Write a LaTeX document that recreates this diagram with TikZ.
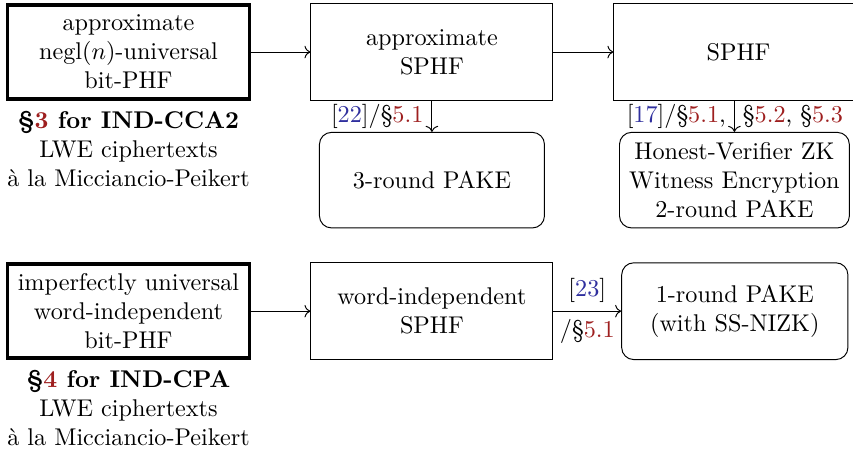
\documentclass[tikz,border=0pt]{standalone}
\usepackage{amsmath}
\usepackage{tikz}
\usepackage{xcolor}
\usetikzlibrary{arrows.meta, positioning}
\definecolor{citeblue}{HTML}{2F2F9E}
\definecolor{secred}{HTML}{9E1F1F}
\newcommand{\citenum}[1]{[\textcolor{citeblue}{#1}]}
\newcommand{\secnum}[1]{\S\textcolor{secred}{#1}}

\begin{document}
\begin{tikzpicture}[
  font=\fontsize{10}{12}\selectfont,
  box/.style={draw, minimum width=100pt, minimum height=40pt, align=center},
  phf/.style={box, line width=1.6pt, minimum height=39pt},
  pake/.style={draw, rounded corners=5pt, minimum height=39.5pt, align=center},
  descr/.style={align=center},
  ar/.style={->}
]
\useasboundingbox (-53.1pt,-165.3pt) rectangle (299.4pt,21.5pt);

% first row: IND-CCA2
\node[phf] (apx) {approximate\\negl($n$)-universal\\bit-PHF};
\node[descr, below=0.5pt of apx] (cca) {\textbf{\S\textcolor{secred}{3} for IND-CCA2}\\LWE ciphertexts\\\`a la Micciancio-Peikert};
\node[box, right=24.4pt of apx] (asphf) {approximate\\SPHF};
\node[box, minimum width=103pt, right=24.8pt of asphf] (sphf) {SPHF};
\node[pake, minimum width=93pt, below=12.8pt of asphf] (pake3) {3-round PAKE};
\node[pake, minimum width=95pt, below=12.8pt of sphf.south west, xshift=50pt] (pake2) {Honest-Verifier ZK\\Witness Encryption\\2-round PAKE};

\draw[ar] (apx) -- (asphf);
\draw[ar] (asphf) -- (sphf);
\draw[ar] (asphf) -- node[left] {\citenum{22}/\secnum{5.1}} (pake3);
\draw[ar] (sphf.south -| pake2) -- node[left] {\citenum{17}/\secnum{5.1},} node[right] {\secnum{5.2}, \secnum{5.3}} (pake2);

% second row: IND-CPA
\node[phf, below=66.5pt of apx] (imp) {imperfectly universal\\word-independent\\bit-PHF};
\node[descr, below=0.5pt of imp] (cpa) {\textbf{\S\textcolor{secred}{4} for IND-CPA}\\LWE ciphertexts\\\`a la Micciancio-Peikert};
\node[box, right=24.4pt of imp] (wisphf) {word-independent\\SPHF};
\node[pake, minimum width=93.5pt, minimum height=40pt, right=28pt of wisphf] (pake1) {1-round PAKE\\(with SS-NIZK)};

\draw[ar] (imp) -- (wisphf);
\draw[ar] (wisphf) -- node[above] {\citenum{23}} node[below] {/\secnum{5.1}} (pake1);
\end{tikzpicture}
\end{document}
